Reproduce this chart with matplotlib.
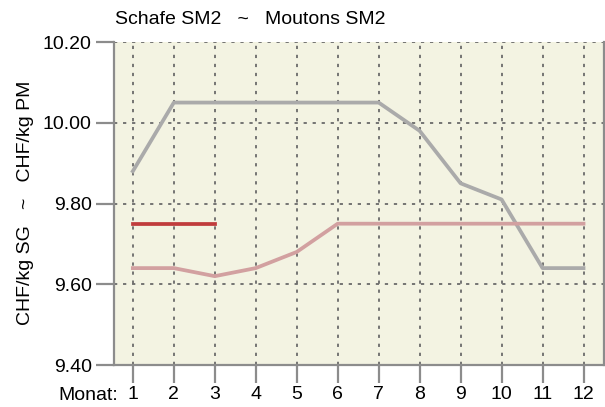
import matplotlib.pyplot as plt

plt.rcParams['font.family'] = ['Liberation Sans', 'DejaVu Sans']

# Monatswerte
monate = list(range(1, 13))
preis_vorjahr = [9.88, 10.05, 10.05, 10.05, 10.05, 10.05, 10.05, 9.98, 9.85, 9.81, 9.64, 9.64]
preis_mittel = [9.64, 9.64, 9.62, 9.64, 9.68, 9.75, 9.75, 9.75, 9.75, 9.75, 9.75, 9.75]
monate_aktuell = [1, 2, 3]
preis_aktuell = [9.75, 9.75, 9.75]

y_ticks = [9.40, 9.60, 9.80, 10.00, 10.20]

fig = plt.figure(figsize=(6.05, 4.07), dpi=100)
ax = fig.add_axes([114 / 605, 1 - 365 / 407, 490 / 605, 323 / 407])
ax.set_facecolor('#f3f3e2')

ax.plot(monate, preis_vorjahr, color='#aaaaaa', lw=2.7)
ax.plot(monate, preis_mittel, color='#d2a0a0', lw=2.7)
ax.plot(monate_aktuell, preis_aktuell, color='#c03c3c', lw=2.7)

ax.set_xlim(0.54, 12.5)
ax.set_ylim(9.40, 10.20)
ax.set_xticks(monate)
ax.set_yticks(y_ticks)
ax.set_yticklabels([f'{v:.2f}' for v in y_ticks])

ax.grid(True, color='#6a6a6a', linestyle=(0, (1.8, 3.2)), linewidth=1.3)
for side in ['left', 'right', 'bottom']:
    ax.spines[side].set_color('#8c8c8c')
    ax.spines[side].set_linewidth(1.6)
ax.spines['top'].set_visible(False)

ax.tick_params(axis='both', colors='#8c8c8c', width=1.6, length=13,
               labelcolor='black', labelsize=14)
ax.tick_params(axis='x', pad=2)
ax.tick_params(axis='y', pad=3)

fig.text(115 / 605, 1 - 20 / 407, 'Schafe SM2   ~   Moutons SM2',
         fontsize=14, va='center', ha='left')
fig.text(26 / 605, 1 - 203 / 407, 'CHF/kg SG   ~   CHF/kg PM',
         fontsize=14, rotation=90, va='center', ha='center')
fig.text(118 / 605, 1 - 396 / 407, 'Monat:', fontsize=14, va='center', ha='right')

fig.savefig('out.png', dpi=100)
